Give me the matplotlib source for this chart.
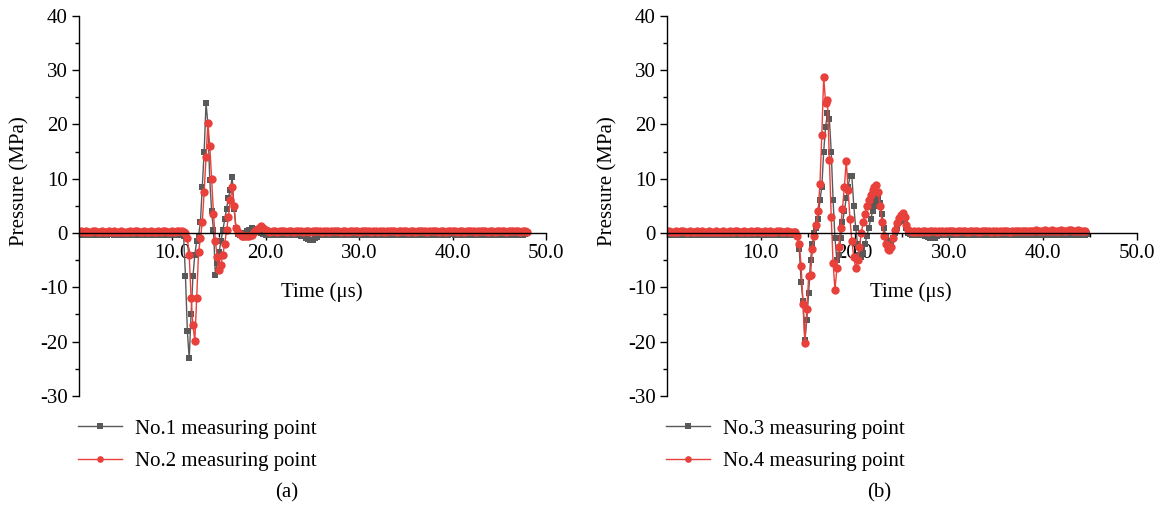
import matplotlib.pyplot as plt
import numpy as np
from matplotlib.ticker import MultipleLocator

plt.rcParams['font.family'] = ['Liberation Serif', 'DejaVu Serif']
plt.rcParams['font.size'] = 15
plt.rcParams['axes.unicode_minus'] = False

GRAY = '#595959'
RED = '#E8403A'

# ---- (a) No.1 / No.2 measuring points ----
# each record: baseline before the wave (0.25 us step), wave (0.2 us step), tail (0.25 us step)
a_starts = [0.0, 11.0, 18.0]
a_steps = [0.25, 0.2, 0.25]

p1_pre = [-0.2, -0.3, -0.3, -0.2, -0.3, -0.4, -0.3, -0.3, -0.2, -0.3, -0.3,
          -0.4, -0.3, -0.2, -0.2, -0.3, -0.3, -0.3, -0.4, -0.3, -0.2, -0.3,
          -0.3, -0.2, -0.3, -0.4, -0.4, -0.3, -0.2, -0.3, -0.3, -0.3, -0.2,
          -0.3, -0.4, -0.3, -0.3, -0.2, -0.3, -0.3, -0.2, -0.3, -0.3, -0.3]
p1_evt = [-0.3, -0.5, -8.0, -18.0, -23.1, -15.0, -8.0, -4.0, -1.5, -0.5,
          2.0, 8.5, 15.0, 24.0, 20.0, 9.8, 4.0, 0.5, -7.8, -5.5,
          -3.5, -1.5, 0.5, 2.5, 4.5, 6.5, 8.0, 10.3, 4.5, 1.0,
          -0.2, -0.4, -0.3, -0.2, 0.0]
p1_post = [0.3, 0.6, 0.9, 0.8, 0.6, 0.3, 0.0, -0.2,
           -0.3, -0.4, -0.4, -0.3, -0.3, -0.2, -0.3, -0.3, -0.4, -0.3, -0.3, -0.4, -0.4, -0.3, -0.4, -0.5,
           -0.6, -0.9, -1.1, -1.3, -1.3, -1.0, -0.7, -0.4,
           -0.3, -0.2, -0.3, -0.3, -0.4, -0.3, -0.2, -0.3, -0.3, -0.2, -0.3, -0.4, -0.3, -0.3, -0.2, -0.3, -0.3, -0.4, -0.3, -0.2, -0.3, -0.3,
           -0.2, -0.3, -0.4, -0.3, -0.3, -0.2, -0.3, -0.3, -0.3, -0.4, -0.3, -0.2, -0.3, -0.3, -0.2, -0.3, -0.4, -0.3, -0.3, -0.2, -0.3, -0.3,
           -0.3, -0.2, -0.3, -0.4, -0.3, -0.3, -0.2, -0.3, -0.3, -0.4, -0.3, -0.2, -0.2, -0.3, -0.3, -0.4, -0.3, -0.3, -0.2, -0.3, -0.3, -0.3,
           -0.4, -0.3, -0.2, -0.3, -0.3, -0.2, -0.3, -0.4, -0.3, -0.3, -0.2, -0.3, -0.3, -0.2, -0.3, -0.4, -0.3, -0.3, -0.2, -0.3, -0.3, -0.2]

p2_pre = [0.2, 0.3, 0.2, 0.3, 0.2, 0.2, 0.3, 0.3, 0.2, 0.2, 0.3,
          0.2, 0.2, 0.3, 0.2, 0.3, 0.2, 0.2, 0.3, 0.2, 0.2, 0.2,
          0.3, 0.2, 0.3, 0.3, 0.2, 0.2, 0.3, 0.2, 0.2, 0.3, 0.2,
          0.2, 0.3, 0.2, 0.3, 0.3, 0.2, 0.2, 0.3, 0.2, 0.3, 0.3]
p2_evt = [0.3, 0.2, 0.0, -1.0, -4.0, -12.0, -17.0, -19.8, -12.0, -3.5,
          -1.0, 2.0, 7.5, 14.0, 20.3, 16.0, 10.0, 3.5, -1.5, -4.5,
          -6.8, -5.8, -4.0, -2.0, 0.5, 3.0, 6.0, 8.5, 5.0, 1.0,
          0.2, -0.2, -0.5, -0.6, -0.6]
p2_post = [-0.6, -0.5, -0.3, 0.1, 0.6, 1.0, 1.2, 1.0, 0.5, 0.3, 0.2, 0.3,
           0.3, 0.2, 0.3, 0.4, 0.3, 0.2, 0.3, 0.3, 0.2, 0.3, 0.4, 0.3, 0.2, 0.3, 0.3, 0.2, 0.3, 0.3, 0.4, 0.3, 0.2, 0.3,
           0.3, 0.2, 0.3, 0.4, 0.3, 0.3, 0.2, 0.3, 0.3, 0.2, 0.3, 0.4, 0.3, 0.3, 0.2, 0.3, 0.3, 0.4, 0.3, 0.2, 0.3, 0.3,
           0.2, 0.3, 0.3, 0.2, 0.3, 0.4, 0.3, 0.3, 0.2, 0.3, 0.3, 0.4, 0.3, 0.2, 0.3, 0.3, 0.2, 0.3, 0.4, 0.3, 0.3, 0.2,
           0.3, 0.3, 0.4, 0.3, 0.2, 0.3, 0.3, 0.2, 0.3, 0.4, 0.3, 0.3, 0.2, 0.3, 0.3, 0.2, 0.3, 0.4, 0.3, 0.3, 0.2, 0.3,
           0.3, 0.4, 0.3, 0.2, 0.3, 0.3, 0.2, 0.3, 0.4, 0.3, 0.3, 0.2, 0.3, 0.3, 0.4, 0.3, 0.3, 0.2, 0.3, 0.3, 0.2]

# ---- (b) No.3 / No.4 measuring points ----
b_starts = [0.0, 13.5, 26.75]
b_steps = [0.25, 0.2, 0.25]

p3_pre = [-0.2, -0.3, -0.2, -0.3, -0.3, -0.2, -0.3, -0.4, -0.3, -0.2, -0.3, -0.3, -0.2, -0.3,
          -0.3, -0.2, -0.3, -0.4, -0.3, -0.2, -0.3, -0.3, -0.2, -0.3, -0.3, -0.2, -0.3,
          -0.3, -0.4, -0.3, -0.2, -0.3, -0.3, -0.2, -0.3, -0.4, -0.3, -0.3, -0.2, -0.3,
          -0.3, -0.2, -0.3, -0.3, -0.4, -0.3, -0.2, -0.3, -0.3, -0.2, -0.3, -0.3, -0.2, -0.3]
p3_evt = [-0.2, -0.3, -0.5, -3.0, -9.0, -12.5, -19.7, -16.0, -11.0, -5.0,
          -2.0, 0.0, 1.0, 2.5, 6.0, 8.5, 15.0, 19.5, 22.0, 21.0,
          15.0, 6.0, -1.0, -5.0, -4.0, -1.0, 2.0, 4.0, 6.5, 8.5,
          10.5, 10.4, 5.0, 1.0, -2.0, -4.0, -4.5, -3.7, -2.0, -0.5,
          1.0, 2.5, 4.0, 5.0, 6.0, 6.5, 5.5, 3.5, 1.0, -0.5,
          -1.5, -2.0, -1.8, -1.0, 0.0, 1.0, 2.0, 2.5, 2.8, 2.2,
          1.0, 0.0, -0.2, -0.3, -0.2, -0.3]
p3_post = [-0.3, -0.3, -0.4, -0.6, -0.8, -1.0, -1.0, -0.9, -0.6, -0.4, -0.3,
           -0.2, -0.3, -0.3, -0.2, -0.3, -0.4, -0.3, -0.2, -0.3, -0.3, -0.2, -0.3, -0.4, -0.3, -0.3, -0.2, -0.3, -0.3, -0.2, -0.3, -0.4, -0.3,
           -0.3, -0.2, -0.3, -0.3, -0.4, -0.3, -0.2, -0.3, -0.3, -0.2, -0.3, -0.4, -0.3, -0.3, -0.2, -0.3, -0.3, -0.2, -0.3, -0.4, -0.3, -0.3,
           -0.2, -0.3, -0.3, -0.2, -0.3, -0.4, -0.3, -0.3, -0.2, -0.3, -0.3, -0.2, -0.3, -0.3, -0.2, -0.3, -0.3, -0.2]

p4_pre = [0.2, 0.3, 0.2, 0.2, 0.3, 0.2, 0.3, 0.3, 0.2, 0.2, 0.3, 0.2, 0.2, 0.3,
          0.2, 0.3, 0.2, 0.2, 0.3, 0.2, 0.2, 0.3, 0.2, 0.2, 0.3, 0.2, 0.2,
          0.3, 0.2, 0.3, 0.3, 0.2, 0.2, 0.3, 0.2, 0.2, 0.3, 0.2, 0.3, 0.3,
          0.2, 0.2, 0.3, 0.2, 0.3, 0.2, 0.2, 0.3, 0.3, 0.2, 0.2, 0.3, 0.2, 0.2]
p4_evt = [0.2, 0.1, -0.5, -2.0, -6.0, -13.0, -20.3, -14.0, -8.0, -7.7,
          -3.0, -0.5, 1.5, 4.0, 9.0, 18.0, 28.7, 24.0, 24.4, 13.5,
          3.0, -5.5, -10.5, -6.5, -2.5, 1.0, 4.5, 8.5, 13.3, 8.0,
          2.5, -1.5, -4.5, -6.5, -5.0, -2.5, 0.0, 2.0, 3.5, 5.0,
          6.0, 7.0, 8.0, 8.5, 8.8, 7.5, 5.0, 2.0, -0.5, -2.0,
          -3.0, -3.1, -2.5, -1.0, 0.5, 1.8, 2.8, 3.4, 3.6, 3.0,
          1.5, 0.5, 0.3, 0.2, 0.3, 0.2]
p4_post = [0.3, 0.2, 0.3, 0.3, 0.2, 0.3, 0.4, 0.3, 0.2, 0.3, 0.3, 0.2,
           0.3, 0.4, 0.3, 0.3, 0.2, 0.3, 0.3, 0.4, 0.3, 0.2, 0.3, 0.4,
           0.3, 0.3, 0.2, 0.3, 0.3, 0.4, 0.3, 0.2, 0.3, 0.3, 0.2, 0.3,
           0.4, 0.3, 0.3, 0.2, 0.3, 0.4, 0.3, 0.3, 0.4, 0.3, 0.3, 0.4,
           0.3, 0.4, 0.5, 0.4, 0.3, 0.4, 0.5, 0.4, 0.4, 0.5, 0.4, 0.3,
           0.4, 0.5, 0.4, 0.4, 0.5, 0.5, 0.4, 0.4, 0.5, 0.4, 0.3, 0.3]

labels_a = ['No.1 measuring point', 'No.2 measuring point']
labels_b = ['No.3 measuring point', 'No.4 measuring point']
x_ticks = [10, 20, 30, 40, 50]
x_ticklabels = ['10.0', '20.0', '30.0', '40.0', '50.0']


def build(starts, steps, parts):
    t = np.concatenate([s + d * np.arange(len(p)) for s, d, p in zip(starts, steps, parts)])
    v = np.concatenate([np.asarray(p, dtype=float) for p in parts])
    return t, v


def style_axis(ax):
    ax.spines['top'].set_visible(False)
    ax.spines['right'].set_visible(False)
    ax.spines['bottom'].set_position(('data', 0))
    ax.set_xlim(0, 50)
    ax.set_ylim(-30, 40)
    ax.set_xticks(x_ticks)
    ax.set_xticklabels(x_ticklabels)
    ax.xaxis.set_minor_locator(MultipleLocator(5))
    ax.yaxis.set_major_locator(MultipleLocator(10))
    ax.yaxis.set_minor_locator(MultipleLocator(5))
    ax.tick_params(which='major', length=5, width=1, direction='out', pad=3)
    ax.tick_params(which='minor', length=3, width=1, direction='out')
    for s in ('left', 'bottom'):
        ax.spines[s].set_linewidth(1)
    ax.set_ylabel('Pressure (MPa)')
    ax.set_xlabel('Time (μs)')
    ax.yaxis.set_label_coords(-0.105, 0.565)
    ax.xaxis.set_label_coords(0.52, 0.30)


fig = plt.figure(figsize=(11.65, 5.16), dpi=100)
ax_a = fig.add_axes([0.0678, 0.2326, 0.4009, 0.737])
ax_b = fig.add_axes([0.5723, 0.2326, 0.4034, 0.737])

panels = [
    (ax_a, a_starts, a_steps, [p1_pre, p1_evt, p1_post], [p2_pre, p2_evt, p2_post], labels_a, 0.067, '(a)', 0.246),
    (ax_b, b_starts, b_steps, [p3_pre, p3_evt, p3_post], [p4_pre, p4_evt, p4_post], labels_b, 0.5717, '(b)', 0.755),
]

for ax, starts, steps, gray_parts, red_parts, labels, lx, cap, cx in panels:
    tg, vg = build(starts, steps, gray_parts)
    tr, vr = build(starts, steps, red_parts)
    ax.plot(tg, vg, '-s', color=GRAY, lw=1, ms=5, mew=0, label=labels[0])
    ax.plot(tr, vr, '-o', color=RED, lw=1, ms=6, mew=0, label=labels[1])
    style_axis(ax)
    ax.legend(loc='upper left', bbox_to_anchor=(lx, 0.188), bbox_transform=fig.transFigure,
              frameon=False, handlelength=2.1, handletextpad=0.65, labelspacing=0.62,
              borderaxespad=0, borderpad=0, markerscale=0.8)
    fig.text(cx, 0.045, cap, ha='center', va='center')

fig.savefig('out.png', dpi=100)
